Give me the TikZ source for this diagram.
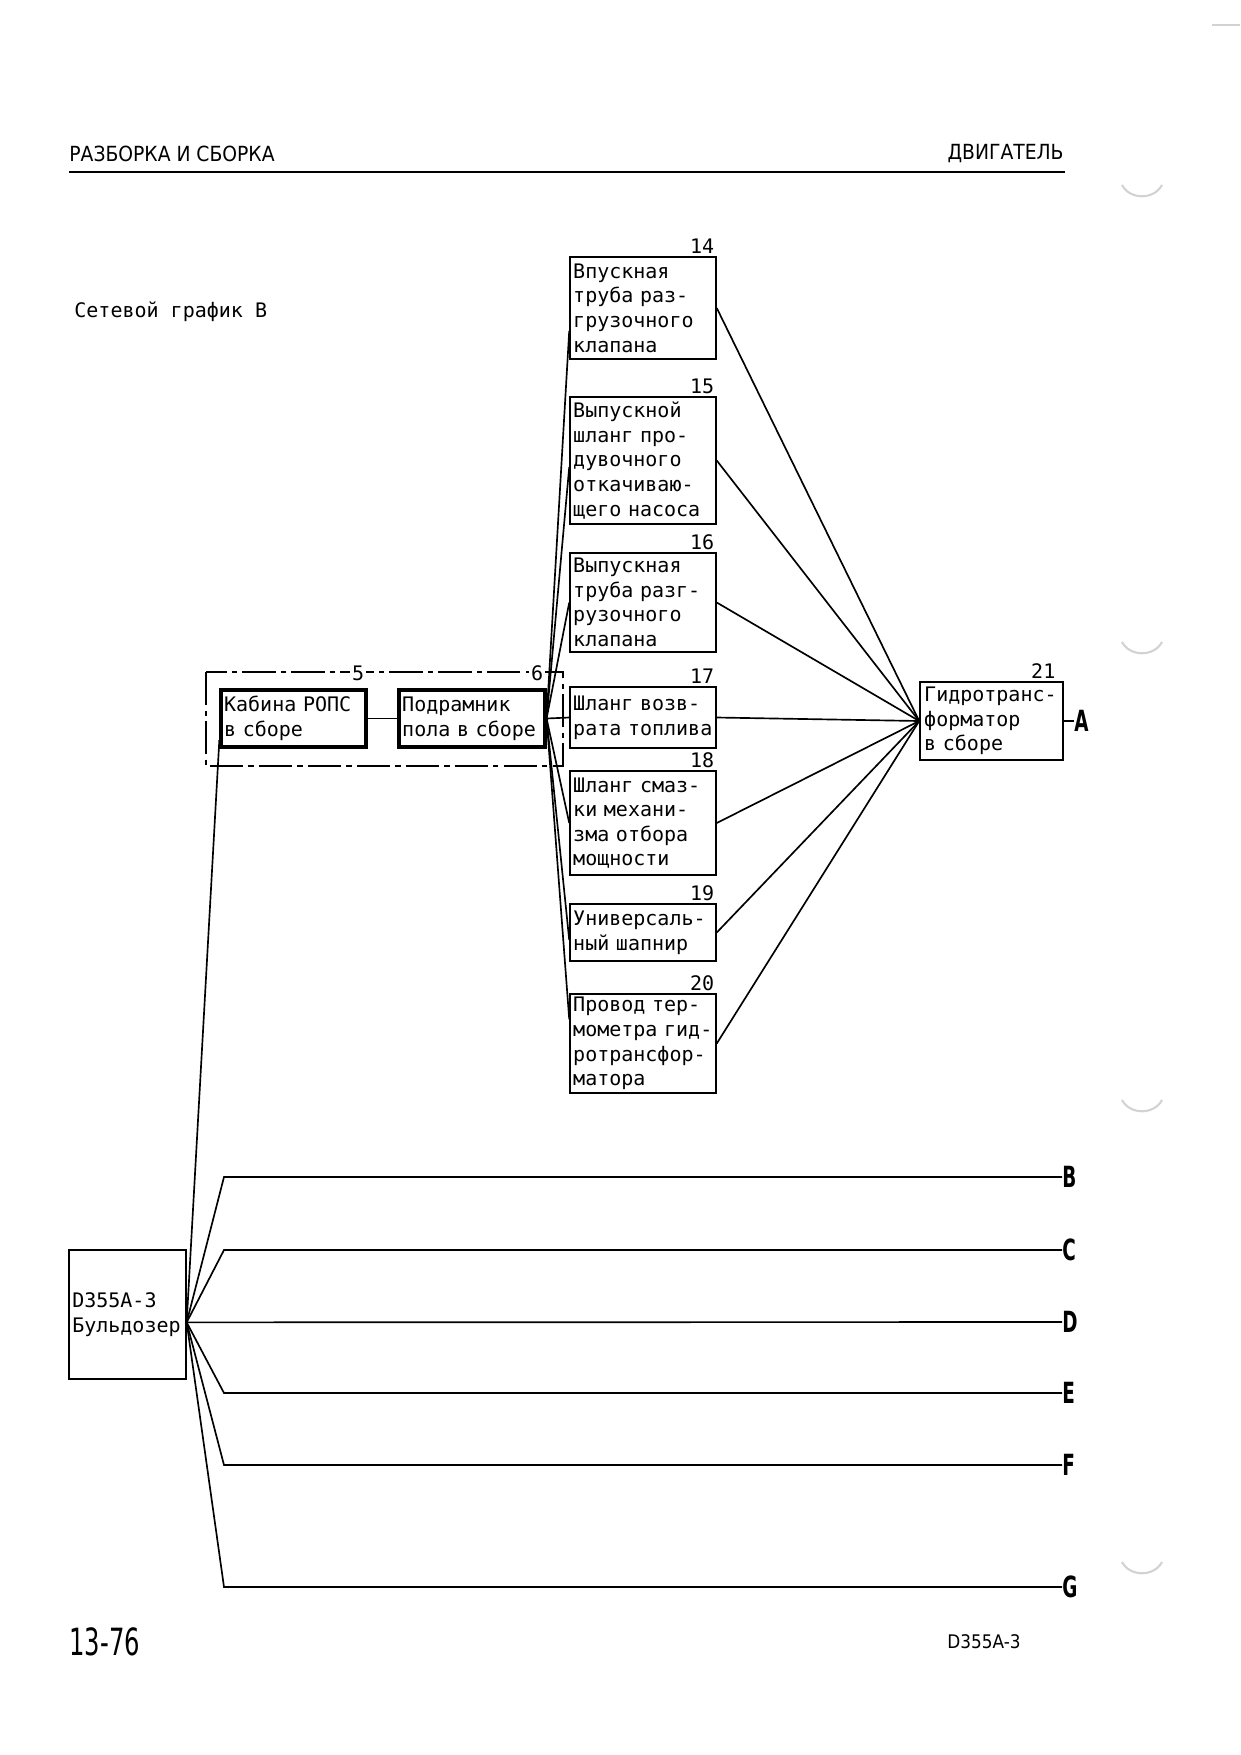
\documentclass[tikz,border=0pt]{standalone}
\usepackage{fontspec}
\newfontfamily\netfont{DejaVu Sans Mono}
\newfontfamily\headfont{DejaVu Sans Condensed}
\newfontfamily\letterfont{DejaVu Sans Condensed}[FakeStretch=0.7]
\newfontfamily\pagefont{DejaVu Sans Condensed}[FakeStretch=0.72]
\usetikzlibrary{calc}

\begin{document}
\begin{tikzpicture}[x=0.48bp, y=-0.48bp,
    box/.style={draw, line width=0.8bp, align=left, inner xsep=1.5bp, inner ysep=0pt,
        font=\netfont\fontsize{9.6bp}{11.8bp}\selectfont},
    job/.style={box, text width=67bp, minimum height=#1},
    heavy/.style={box, line width=1.6bp, text width=#1, minimum height=27.4bp},
    num/.style={anchor=south east, inner sep=1bp, font=\netfont\fontsize{9.6bp}{11.8bp}\selectfont},
    link/.style={line width=0.8bp},
    letter/.style={anchor=west, inner sep=0pt, font=\letterfont\bfseries\fontsize{14bp}{14bp}\selectfont}]
\useasboundingbox (0,0) rectangle (1240,1755);

% page head
\node[anchor=west, inner sep=0pt, font=\headfont\fontsize{10bp}{12bp}\selectfont] (head) at (69,154) {РАЗБОРКА И СБОРКА};
\node[anchor=east, inner sep=0pt, font=\headfont\fontsize{10bp}{12bp}\selectfont] (part) at (1064,154) {ДВИГАТЕЛЬ};
\draw[line width=1.4bp] (69,172) -- (1065,172);
\node[anchor=west, inner sep=0pt, font=\netfont\fontsize{9.6bp}{11.8bp}\selectfont] (title) at (74,312) {Сетевой график B};

% column of parts
\node[job=49bp] (k14) at (643,308) {Впускная\\труба раз-\\грузочного\\клапана};
\node[job=61bp] (k15) at (643,460.5) {Выпускной\\шланг про-\\дувочного\\откачиваю-\\щего насоса};
\node[job=47.5bp] (k16) at (643,602.5) {Выпускная\\труба разг-\\рузочного\\клапана};
\node[job=29.3bp] (k17) at (643,717.5) {Шланг возв-\\рата топлива};
\node[job=49.9bp] (k18) at (643,823) {Шланг смаз-\\ки механи-\\зма отбора\\мощности};
\node[job=27.4bp] (k19) at (643,932.5) {Универсаль-\\ный шапнир};
\node[job=47.5bp] (k20) at (643,1043.5) {Провод тер-\\мометра гид-\\ротрансфор-\\матора};
\node[box, text width=64.6bp, inner xsep=2bp, minimum height=37.4bp] (k21) at (991.5,721) {Гидротранс-\\форматор\\в сборе};
\foreach \n in {14,...,20}
    \node[num] (n\n) at (k\n.north east) {\n};
\node[num] (n21) at ($(k21.north east)+(-6,0)$) {21};

% cab group
\draw[line width=0.7bp, dash pattern=on 16bp off 2.5bp on 2.5bp off 2.5bp] (206,672) rectangle (563,766);
\node[heavy=66.6bp] (k5) at (293.5,718.5) {Кабина РОПС\\в сборе};
\node[heavy=67bp] (k6) at (472,718.5) {Подрамник\\пола в сборе};
\node[num, fill=white] (n5) at ($(k5.north east)+(-1,-5)$) {5};
\node[num, fill=white] (n6) at ($(k6.north east)+(-1,-5)$) {6};

\node[box, text width=53bp, minimum height=62bp] (kd) at (127.5,1314.5) {D355A-3\\Бульдозер};
\coordinate (kdo) at ($(kd.south east)!0.44!(kd.north east)$);

\node[letter] (tA) at (1074,721) {A};

% connectors
\draw[link] (kdo) -- ($(k5.south west)!0.14!(k5.north west)$);
\draw[link] (k5) -- (k6);
\foreach \k/\f in {14/0.28,15/0.45,16/0.5,17/0.5,18/0.5,19/0.37,20/0.74}
    \draw[link] (k6.east) -- ($(k\k.south west)!\f!(k\k.north west)$);
\foreach \k in {14,...,20}
    \draw[link] (k\k.east) -- (k21.west);
\draw[link] (k21.east) -- (tA.west);

\foreach \t/\y in {B/1177,C/1250,E/1393,F/1465,G/1587} {
    \coordinate (b\t) at (224,\y);
    \node[letter] (t\t) at (1062,\y) {\t};
    \draw[link] (kdo) -- (b\t) -- (t\t.west);
}
\node[letter] (tD) at (1062,1322) {D};
\draw[link] (kdo) -- (tD.west);

% page foot
\node[anchor=west, inner sep=0pt, font=\pagefont\fontsize{18bp}{20bp}\selectfont] (page) at (69,1642) {13-76};
\node[anchor=east, inner sep=0pt, font=\headfont\fontsize{9bp}{10bp}\selectfont] (model) at (1021,1642) {D355A-3};

% punch marks of the scan
\foreach \y in {198,655,1113,1575}
    \draw[gray!35, line width=1bp] (1122,\y-13) .. controls (1130,\y+2) and (1154,\y+2) .. (1162,\y-13);
\draw[gray!35, line width=1bp] (1212,25) -- (1240,25);
\end{tikzpicture}
\end{document}
